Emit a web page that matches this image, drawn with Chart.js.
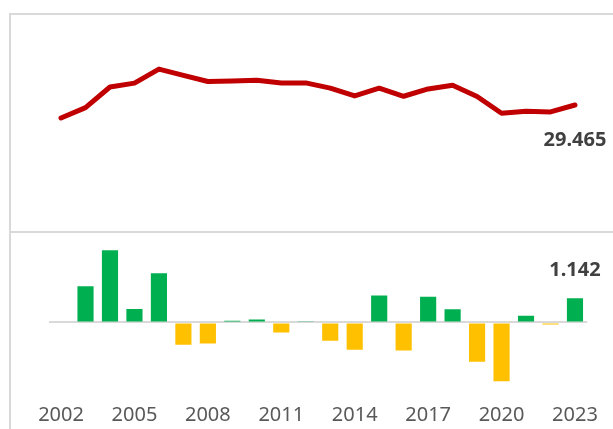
<!DOCTYPE html>
<html>
<head>
<meta charset="utf-8">
<script src="https://cdn.jsdelivr.net/npm/chart.js@4.4.1/dist/chart.umd.min.js"></script>
<style>
  body { margin: 0; background: #fff; }
  #wrap { position: relative; width: 613px; height: 429px; overflow: hidden; }
  .frame { position: absolute; background: #d9d9d9; }
  canvas { position: absolute; left: 0; }
</style>
</head>
<body>
<div id="wrap">
  <div class="frame" style="left:9px; top:13px; width:2px; height:416px;"></div>
  <div class="frame" style="left:9px; top:13px; width:604px; height:2px;"></div>
  <div class="frame" style="left:9px; top:231px; width:604px; height:2px;"></div>
  <canvas id="lineChart" width="613" height="231" style="top:0"></canvas>
  <canvas id="barChart" width="613" height="206" style="top:231px"></canvas>
</div>
<script>
const years = ['2002', '2003', '2004', '2005', '2006', '2007', '2008', '2009', '2010', '2011', '2012',
               '2013', '2014', '2015', '2016', '2017', '2018', '2019', '2020', '2021', '2022', '2023'];
const shareValues = [27.32, 29.03, 32.44, 33.08, 35.40, 34.35, 33.35, 33.43, 33.57, 33.09, 33.12,
                     32.26, 30.97, 32.24, 30.91, 32.12, 32.74, 30.88, 28.10, 28.42, 28.32, 29.465];
const changeValues = [null, 1.71, 3.41, 0.64, 2.32, -1.05, -1.00, 0.08, 0.14, -0.48, 0.03,
                      -0.86, -1.29, 1.27, -1.33, 1.21, 0.62, -1.86, -2.78, 0.32, -0.10, 1.142];

const padLeft = 48.8;
const padRight = 25.8;

// writes the last value next to its mark
const lastLabel = {
    id: 'lastLabel',
    afterDatasetsDraw(chart, args, opts) {
        const meta = chart.getDatasetMeta(0);
        const el = meta.data[meta.data.length - 1];
        const ctx = chart.ctx;
        ctx.save();
        ctx.font = 'bold 20px "Noto Sans"';
        ctx.fillStyle = '#404040';
        ctx.textAlign = 'center';
        ctx.textBaseline = 'middle';
        ctx.fillText(opts.text, el.x, el.y + opts.dy);
        ctx.restore();
    }
};

new Chart(document.getElementById('lineChart').getContext('2d'), {
    type: 'line',
    data: {
        labels: years,
        datasets: [{
            data: shareValues,
            borderColor: '#c00000',
            borderWidth: 5,
            borderCapStyle: 'round',
            borderJoinStyle: 'round',
            pointRadius: 0,
            tension: 0
        }]
    },
    options: {
        responsive: false,
        animation: false,
        layout: { padding: { left: padLeft, right: padRight, top: 0, bottom: 0 } },
        plugins: {
            legend: { display: false },
            tooltip: { enabled: false },
            lastLabel: { text: '29.465', dy: 35 }
        },
        scales: {
            x: { display: false, offset: true },
            y: { display: false, min: 8.64, max: 46.82 }
        }
    },
    plugins: [lastLabel]
});

new Chart(document.getElementById('barChart').getContext('2d'), {
    type: 'bar',
    data: {
        labels: years,
        datasets: [{
            data: changeValues,
            backgroundColor: changeValues.map(v => v >= 0 ? '#00b050' : '#ffc000'),
            barPercentage: 0.66,
            categoryPercentage: 1
        }]
    },
    options: {
        responsive: false,
        animation: false,
        layout: { padding: { left: padLeft, right: padRight, top: 0, bottom: 3 } },
        plugins: {
            legend: { display: false },
            tooltip: { enabled: false },
            lastLabel: { text: '1.142', dy: -28 }
        },
        scales: {
            x: {
                grid: { display: false, drawTicks: false },
                border: { display: false },
                ticks: {
                    autoSkip: false,
                    maxRotation: 0,
                    padding: 7,
                    color: '#595959',
                    font: { family: 'Noto Sans', size: 20 },
                    callback: (v, i) => i % 3 === 0 ? years[i] : ''
                }
            },
            y: {
                min: -3.476,
                max: 4.32,
                grid: {
                    drawTicks: false,
                    lineWidth: 2,
                    color: c => c.tick.value === 0 ? '#d9d9d9' : 'transparent'
                },
                border: { display: false },
                ticks: { display: false, stepSize: 1 }
            }
        }
    },
    plugins: [lastLabel]
});
</script>
</body>
</html>
